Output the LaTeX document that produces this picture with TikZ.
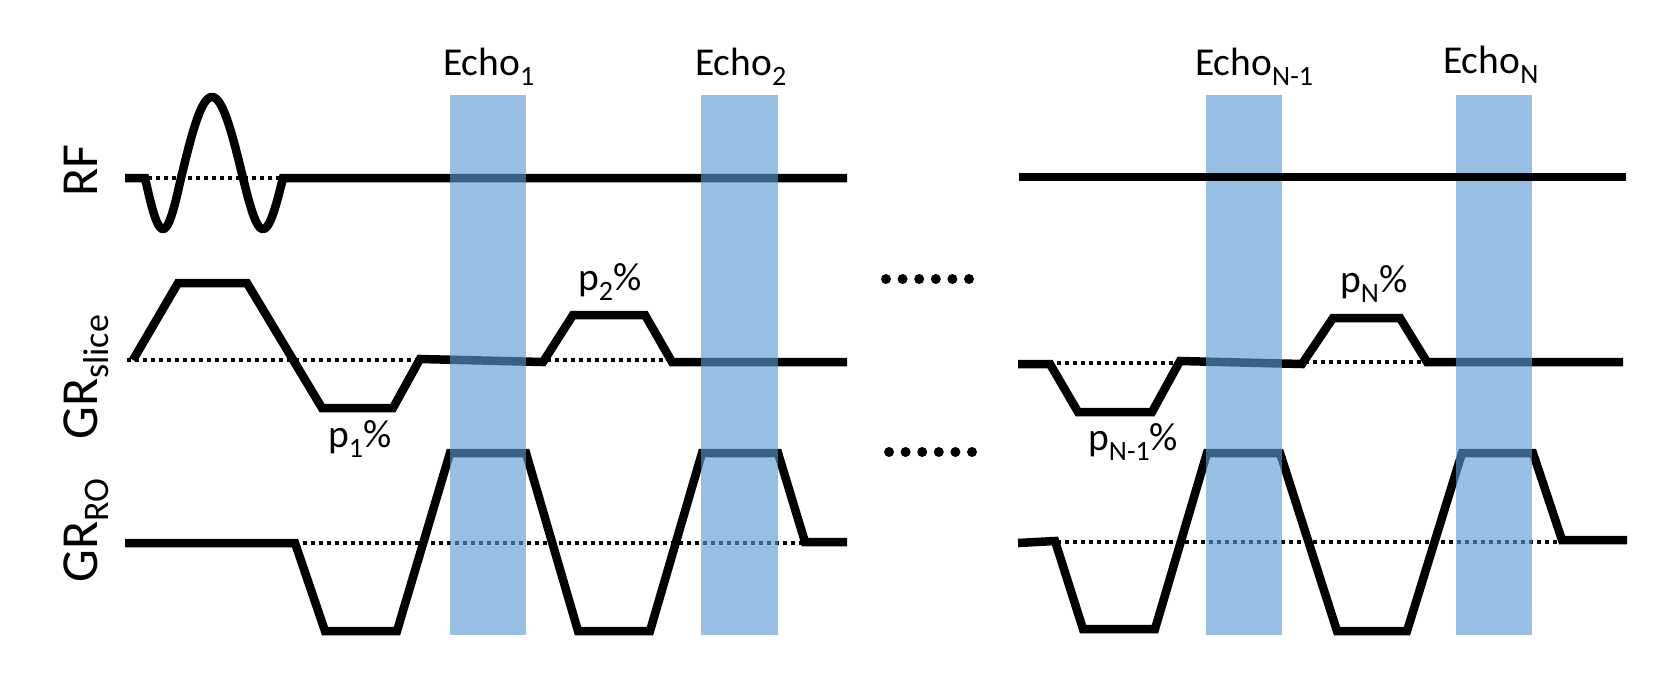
\documentclass[tikz,border=0pt]{standalone}
\usepackage{fontspec}
\setmainfont{Carlito}
\definecolor{echoblue}{RGB}{91,155,213}
\newcommand{\smsub}[1]{\raisebox{-10pt}{\fontsize{28}{28}\selectfont #1}}
\newcommand{\bigsub}[1]{\raisebox{-11pt}{\fontsize{36}{36}\selectfont #1}}
\tikzset{
  wave/.style={line width=8.5pt, black, line join=miter},
  zero/.style={line width=4.5pt, black, dash pattern=on 4pt off 4pt},
  echobox/.style={fill=echoblue, fill opacity=0.63, draw=none},
  lbl/.style={inner sep=0pt, anchor=base west, font=\fontsize{39.5}{40}\selectfont},
  axlbl/.style={inner sep=0pt, anchor=base west, rotate=90, font=\fontsize{52}{52}\selectfont},
  dot/.style={fill=black, draw=none}
}
\begin{document}
\begin{tikzpicture}[x=1pt, y=-1pt]
\useasboundingbox (0,0) rectangle (1678,689);

% zero lines (dotted)
\draw[zero] (148,178) -- (280,178);
\draw[zero] (127,360) -- (420,360);
\draw[zero] (547,360) -- (670,360);
\draw[zero] (295,543) -- (805,543);
\draw[zero] (1057,363) -- (1180,363);
\draw[zero] (1305,362) -- (1427,362);
\draw[zero] (1057,542) -- (1560,542);

% RF left
\draw[wave] (125,178) -- (145,178)
  -- plot[domain=145:181, samples=30] (\x, {178+51*sin(180*(\x-145)/36)})
  -- plot[domain=181:243, samples=50] (\x, {178-81*sin(180*(\x-181)/62)})
  -- plot[domain=243:283, samples=30] (\x, {178+51*sin(180*(\x-243)/40)})
  -- (847,178);

% GR slice left
\draw[wave] (133,360) -- (178,283) -- (247,283) -- (322,408) -- (393,408)
  -- (420,359) -- (543,362) -- (573,315) -- (645,315) -- (672,362) -- (847,362);

% GR RO left
\draw[wave] (125,543) -- (295,543) -- (325,631) -- (397,631) -- (450,453)
  -- (526,453) -- (578,631) -- (650,631) -- (702,453) -- (778,453)
  -- (805,542) -- (847,542);

% GR slice right
\draw[wave] (1018,364) -- (1050,364) -- (1078,412) -- (1152,412) -- (1180,361)
  -- (1302,364) -- (1333,318) -- (1400,318) -- (1427,362) -- (1623,362);

% GR RO right
\draw[wave] (1018,543) -- (1055,541) -- (1083,629) -- (1155,629) -- (1207,453)
  -- (1280,453) -- (1337,631) -- (1407,631) -- (1462,453) -- (1533,453)
  -- (1562,540) -- (1627,540);

% echo windows
\fill[echobox] (450,95) rectangle (526,635);
\fill[echobox] (701,95) rectangle (778,635);
\fill[echobox] (1206,95) rectangle (1282,635);
\fill[echobox] (1456,95) rectangle (1532,635);

% RF right (on top of the windows)
\draw[wave] (1019,177) -- (1626,177);

% continuation dots
\foreach \i in {0,...,5} {
  \fill[dot] (886+16.6*\i,279) circle (5);
  \fill[dot] (889+16.6*\i,452) circle (5);
}

% labels
\node[lbl] (e1) at (443,75) {Echo\smsub{1}};
\node[lbl] (e2) at (695,75) {Echo\smsub{2}};
\node[lbl] (en1) at (1195,75) {Echo\smsub{N-1}};
\node[lbl] (en) at (1443,73) {Echo\smsub{N}};

\node[lbl] (p1) at (328,447) {p\smsub{1}\%};
\node[lbl] (p2) at (578,290) {p\smsub{2}\%};
\node[lbl] (pn1) at (1088,450) {p\smsub{N-1}\%};
\node[lbl] (pn) at (1340,292) {p\smsub{N}\%};

\node[axlbl] (rf) at (97,197) {RF};
\node[axlbl] (gs) at (97,440) {GR\bigsub{slice}};
\node[axlbl] (gro) at (97,583) {GR\bigsub{RO}};
\end{tikzpicture}
\end{document}
